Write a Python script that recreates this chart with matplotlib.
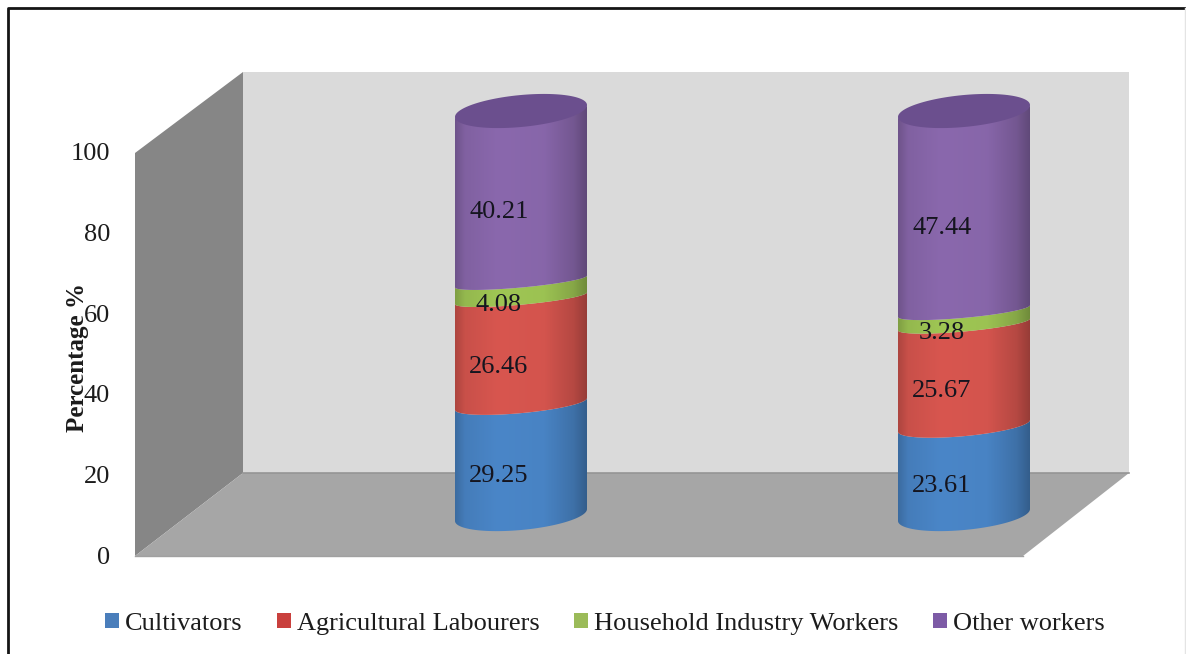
import numpy as np
import matplotlib
matplotlib.use("Agg")
import matplotlib.pyplot as plt
from matplotlib.patches import Polygon, Rectangle

plt.rcParams['font.family'] = ['Liberation Serif', 'DejaVu Serif']

series = ['Cultivators', 'Agricultural Labourers', 'Household Industry Workers', 'Other workers']
bar1 = [29.25, 26.46, 4.08, 40.21]
bar2 = [23.61, 25.67, 3.28, 47.44]
yticks = [0, 20, 40, 60, 80, 100]

colors = ['#4a86c8', '#d8564f', '#9fc654', '#8a68ad']
legend_colors = ['#4a7ebb', '#c9403d', '#9bbb59', '#7d5ba6']
cap_color = '#6b4f8e'
text_color = '#1c1c1c'

W, H = 1186, 654
fig = plt.figure(figsize=(W / 100, H / 100), dpi=100)


def box(x0, x1, y_top, y_bottom):
    # pixel box (y measured from top) to figure fractions
    return [x0 / W, 1 - y_bottom / H, (x1 - x0) / W, (y_bottom - y_top) / H]


# background layer in pixels: walls, floor, border
ax = fig.add_axes([0, 0, 1, 1])
ax.set_xlim(0, W)
ax.set_ylim(H, 0)
ax.axis('off')
ax.autoscale(False)

ax.add_patch(Polygon([(243, 72), (1129, 72), (1129, 473), (243, 473)], fc='#dadada', ec='none'))
ax.add_patch(Polygon([(135, 153), (243, 72), (243, 473), (135, 556)], fc='#868686', ec='none'))
ax.add_patch(Polygon([(135, 556), (243, 473), (1129, 473), (1023, 556)], fc='#a6a6a6', ec='none'))
ax.plot([243, 1129], [473, 473], color='#959595', lw=1.2)
ax.plot([135, 1023], [556, 556], color='#a0a0a0', lw=1)
ax.plot([8, 8, W], [H, 8, 8], color='#151515', lw=2)
ax.plot([W - 1, W - 1], [8, H], color='#e4e4e4', lw=1)

# front wall value axis with the tick labels
tick_ax = fig.add_axes(box(135, 136, 152, 555))
tick_ax.set_ylim(0, 100)
tick_ax.set_yticks(yticks)
tick_ax.set_xticks([])
tick_ax.patch.set_alpha(0)
for s in tick_ax.spines.values():
    s.set_visible(False)
tick_ax.tick_params(axis='y', length=0, pad=18, labelsize=19, labelcolor=text_color)
tick_ax.set_ylabel('Percentage %', fontsize=18, fontweight='bold', color=text_color)
tick_ax.yaxis.set_label_coords(89 / W, 1 - 358 / H, transform=fig.transFigure)

# bars axis: the 3-D perspective squeezes the low values a little
bar_ax = fig.add_axes(box(0, W, 110, 515))
bar_ax.set_yscale('function', functions=(
    lambda v: 3.69 * np.asarray(v) + 0.0036 * np.asarray(v) ** 2,
    lambda p: (-3.69 + np.sqrt(3.69 ** 2 + 4 * 0.0036 * np.maximum(p, 0))) / (2 * 0.0036),
))
bar_ax.set_ylim(0, 100)
bar_ax.set_xlim(-521 / 443, (W - 521) / 443)
bar_ax.axis('off')
bar_ax.patch.set_alpha(0)

R = 66
TILT = -0.09
shade_u = [-1, -0.85, -0.35, 0.35, 0.8, 1]
shade_v = [0.80, 0.93, 1.0, 0.98, 0.84, 0.70]


def to_px(i, v):
    return ax.transData.inverted().transform(bar_ax.transData.transform((i, v)))


def arc(cx, cy, b, reverse=False):
    t = np.linspace(0, np.pi, 60)
    x = cx + R * np.cos(t)
    y = cy + b * np.sin(t) + TILT * (x - cx)
    pts = np.column_stack([x, y])
    return pts[::-1] if reverse else pts


def flatness(v):
    # ellipse half height, flatter near eye level
    return np.interp(v, [0, 30, 60, 100], [15, 9, 6, 16])


def draw_bar(i, values):
    edges = np.concatenate([[0], np.cumsum(values)])
    u = np.linspace(-1, 1, 200)
    shade = np.interp(u, shade_u, shade_v)
    for j in range(len(values)):
        lo, hi = edges[j], edges[j + 1]
        cx, ylo = to_px(i, lo)
        yhi = to_px(i, hi)[1]
        poly = Polygon(np.vstack([arc(cx, ylo, flatness(lo)),
                                  arc(cx, yhi, flatness(hi), reverse=True)]),
                       fc='none', ec='none', transform=ax.transData)
        ax.add_patch(poly)
        rgb = np.array(matplotlib.colors.to_rgb(colors[j]))
        img = np.clip(shade[None, :, None] * rgb, 0, 1)
        im = ax.imshow(img, extent=(cx - R, cx + R, ylo + 40, yhi - 40),
                       aspect='auto', zorder=2)
        im.set_clip_path(poly)
        bar_ax.annotate(f'{values[j]:.2f}', (i, (lo + hi) / 2), xytext=(-16, -11),
                        textcoords='offset points', ha='center', va='center',
                        fontsize=19, color='#15151f')
    # lid
    cx, ytop = to_px(i, edges[-1])
    b = flatness(edges[-1])
    lid = np.vstack([arc(cx, ytop + 1, b), arc(cx, ytop + 1, -b, reverse=True)])
    ax.add_patch(Polygon(lid, fc=cap_color, ec='none', zorder=3))


draw_bar(0, bar1)
draw_bar(1, bar2)
ax.set_xlim(0, W)
ax.set_ylim(H, 0)

handles = [Rectangle((0, 0), 1, 1, fc=c, ec='none') for c in legend_colors]
leg = bar_ax.legend(handles, series, ncol=4, loc='center',
                    bbox_to_anchor=(604.5 / W, 1 - 624 / H), bbox_transform=fig.transFigure,
                    frameon=False, fontsize=19, labelcolor=text_color,
                    handlelength=0.53, handleheight=0.53, handletextpad=0.23,
                    columnspacing=1.3, borderpad=0, borderaxespad=0)

fig.savefig('out.png', dpi=100)
